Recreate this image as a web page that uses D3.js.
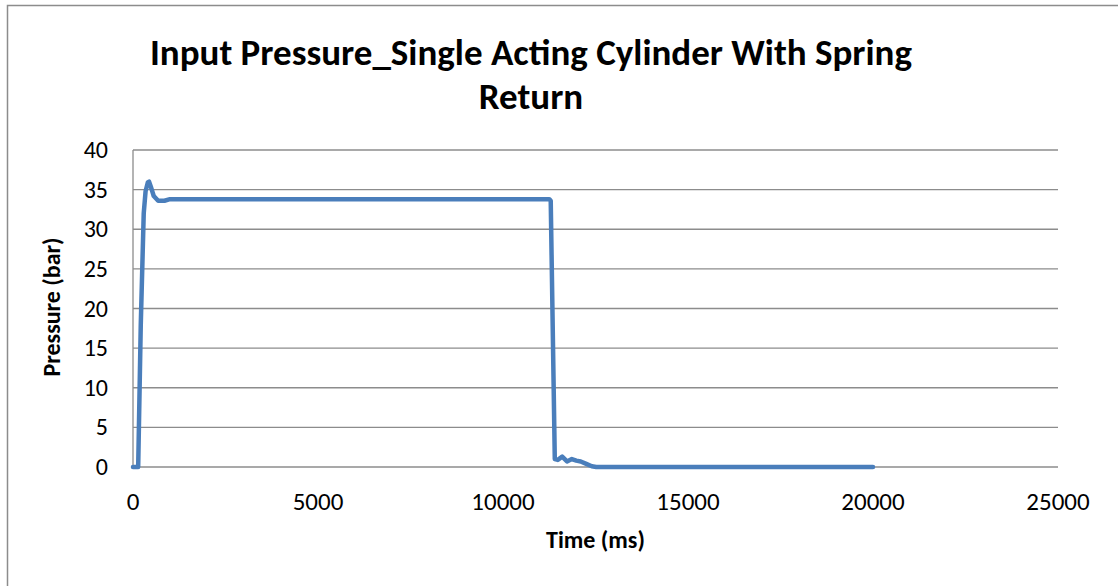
<!DOCTYPE html>
<html>
<head>
<meta charset="utf-8">
<script src="https://cdn.jsdelivr.net/npm/d3@7"></script>
<style>
  body { margin: 0; background: #fff; }
  svg text { font-family: Carlito, Calibri, Lato, "Open Sans", sans-serif; fill: #000; }
  .grid line { stroke: #8c8c8c; stroke-width: 1.3; }
</style>
</head>
<body>
<div id="chart"></div>
<script>
// time (ms) and pressure (bar)
const timeMs = [0, 140, 210, 290, 340, 400, 435, 480, 560, 680, 850, 1000, 1200,
  11250, 11290, 11400, 11480, 11600, 11730, 11860, 11980, 12100, 12250, 12400, 12520, 20000];
const pressure = [0, 0, 18, 32, 34.8, 35.9, 36, 35.4, 34.2, 33.6, 33.6, 33.8, 33.8,
  33.8, 33.6, 1.0, 0.9, 1.3, 0.7, 1.0, 0.8, 0.7, 0.4, 0.1, 0, 0];
const yTicks = [0, 5, 10, 15, 20, 25, 30, 35, 40];
const xTicks = [0, 5000, 10000, 15000, 20000, 25000];

const W = 1118, H = 586;
const plot = {left: 133, right: 1058, top: 150, bottom: 467};

const svg = d3.select('#chart').append('svg')
  .attr('width', W)
  .attr('height', H);

// outer frame (only left and top edges fall inside the picture)
svg.append('rect')
  .attr('x', 7.5).attr('y', 5.5)
  .attr('width', 1130).attr('height', 600)
  .attr('fill', '#fff')
  .attr('stroke', '#8c8c8c')
  .attr('stroke-width', 1.5);

const x = d3.scaleLinear().domain([0, 25000]).range([plot.left, plot.right]);
const y = d3.scaleLinear().domain([0, 40]).range([plot.bottom, plot.top]);

// horizontal gridlines
svg.append('g')
  .attr('class', 'grid')
  .selectAll('line')
  .data(yTicks)
  .join('line')
  .attr('x1', plot.left).attr('x2', plot.right)
  .attr('y1', d => y(d)).attr('y2', d => y(d));

// left axis line
svg.append('line')
  .attr('x1', plot.left).attr('x2', plot.left)
  .attr('y1', plot.top).attr('y2', plot.bottom)
  .attr('stroke', '#8c8c8c').attr('stroke-width', 1.3);

// y tick labels
svg.append('g')
  .selectAll('text')
  .data(yTicks)
  .join('text')
  .attr('x', 108)
  .attr('y', d => y(d) + 8)
  .attr('text-anchor', 'end')
  .attr('font-size', 24)
  .text(d => d);

// x tick labels
svg.append('g')
  .selectAll('text')
  .data(xTicks)
  .join('text')
  .attr('x', d => x(d))
  .attr('y', 510)
  .attr('text-anchor', 'middle')
  .attr('font-size', 25)
  .text(d => d);

// series
const line = d3.line()
  .x((d, i) => x(timeMs[i]))
  .y(d => y(d));

svg.append('path')
  .datum(pressure)
  .attr('d', line)
  .attr('fill', 'none')
  .attr('stroke', '#4a7ebb')
  .attr('stroke-width', 4.5)
  .attr('stroke-linejoin', 'round')
  .attr('stroke-linecap', 'round');

// title
const title = svg.append('text')
  .attr('text-anchor', 'middle')
  .attr('font-size', 37)
  .attr('font-weight', 'bold');
title.append('tspan').attr('x', 531).attr('y', 65)
  .text('Input Pressure_Single Acting Cylinder With Spring');
title.append('tspan').attr('x', 531).attr('y', 109)
  .text('Return');

// axis titles
svg.append('text')
  .attr('x', (plot.left + plot.right) / 2)
  .attr('y', 548)
  .attr('text-anchor', 'middle')
  .attr('font-size', 24)
  .attr('font-weight', 'bold')
  .text('Time (ms)');

svg.append('text')
  .attr('transform', 'translate(60,' + 307 + ') rotate(-90)')
  .attr('text-anchor', 'middle')
  .attr('font-size', 24)
  .attr('font-weight', 'bold')
  .text('Pressure (bar)');
</script>
</body>
</html>
